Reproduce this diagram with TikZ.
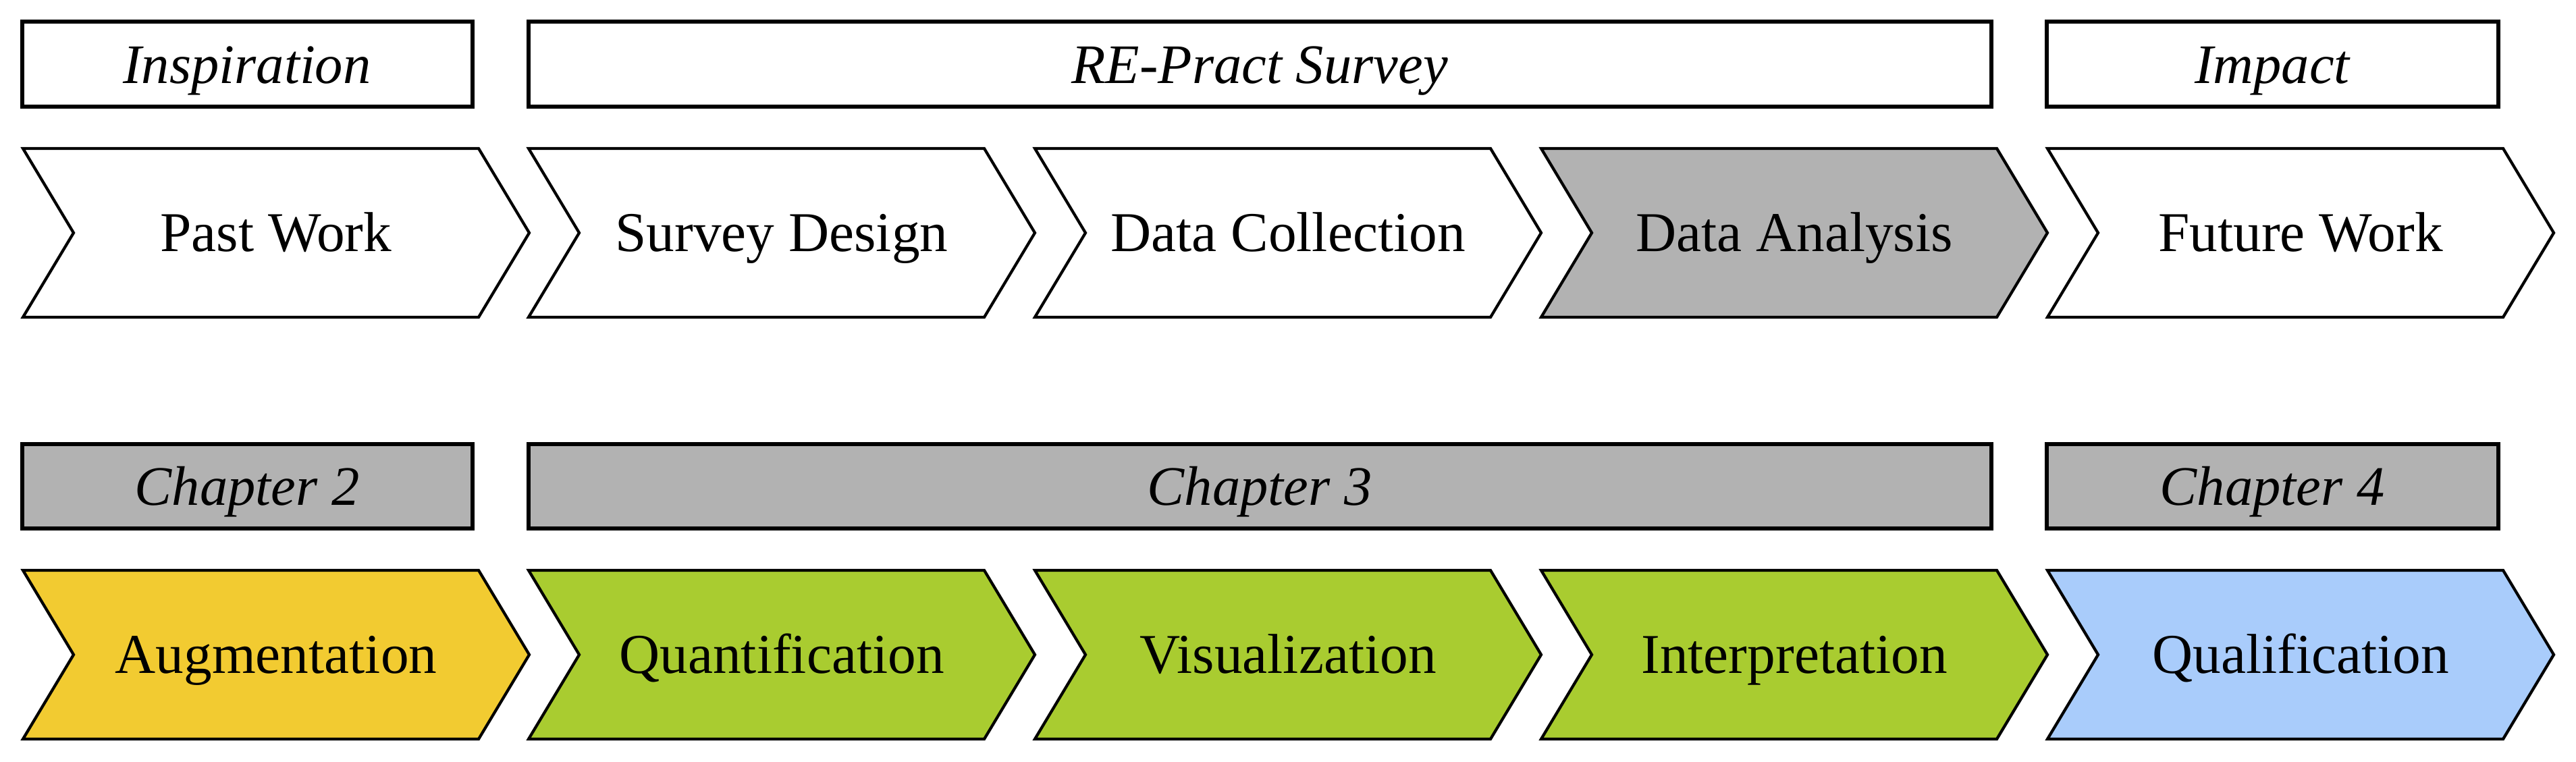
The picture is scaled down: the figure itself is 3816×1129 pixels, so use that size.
\documentclass[tikz,border=0pt]{standalone}
\usepackage{fontspec}
\setmainfont{Liberation Serif}
\usepackage{tikz}
\usetikzlibrary{calc}

\definecolor{phasegray}{RGB}{178,178,178}
\definecolor{augyellow}{RGB}{242,203,49}
\definecolor{chgreen}{RGB}{169,204,48}
\definecolor{qualblue}{RGB}{169,204,251}

\tikzset{
  chevron/.style={draw=black, line width=1.2pt, line join=miter},
  band/.style={draw=black, line width=1.5pt},
  lbl/.style={anchor=base, inner sep=0pt, font=\fontsize{23.7}{28}\selectfont},
  tag/.style={anchor=base, inner sep=0pt, font=\fontsize{23.5}{28}\selectfont\itshape},
}

\begin{document}
\begin{tikzpicture}[x=0.1mm, y=-0.1mm]
  \useasboundingbox (0,0) rectangle (3816,1129);

  % top row: phases of the work
  \draw[band] (33,32) rectangle (700,158);
  \node[tag] (insp) at (366,124) {Inspiration};
  \draw[band] (783,32) rectangle (2950,158);
  \node[tag] (survey) at (1866,124) {RE-Pract Survey};
  \draw[band] (3032,32) rectangle (3701,158);
  \node[tag] (impact) at (3366,124) {Impact};

  \foreach \x/\fillc/\name/\txt in {34/white/past/Past Work,
      783/white/design/Survey Design,
      1533/white/collect/Data Collection,
      2283/phasegray/analysis/Data Analysis,
      3033/white/future/Future Work}
  {
    \draw[chevron, fill=\fillc] (\x,220) -- ++(675,0) -- ++(75,125)
      -- ++(-75,125) -- ++(-675,0) -- ++(75,-125) -- cycle;
    \node[lbl] (\name) at (\x+375,373) {\txt};
  }

  % bottom row: chapters
  \draw[band, fill=phasegray] (33,658) rectangle (700,783);
  \node[tag] (ch2) at (366,749) {Chapter 2};
  \draw[band, fill=phasegray] (783,658) rectangle (2950,783);
  \node[tag] (ch3) at (1866,749) {Chapter 3};
  \draw[band, fill=phasegray] (3032,658) rectangle (3701,783);
  \node[tag] (ch4) at (3366,749) {Chapter 4};

  \foreach \x/\fillc/\name/\txt in {34/augyellow/augment/Augmentation,
      783/chgreen/quant/Quantification,
      1533/chgreen/visual/Visualization,
      2283/chgreen/interp/Interpretation,
      3033/qualblue/qual/Qualification}
  {
    \draw[chevron, fill=\fillc] (\x,845) -- ++(675,0) -- ++(75,125)
      -- ++(-75,125) -- ++(-675,0) -- ++(75,-125) -- cycle;
    \node[lbl] (\name) at (\x+375,998) {\txt};
  }
\end{tikzpicture}
\end{document}
